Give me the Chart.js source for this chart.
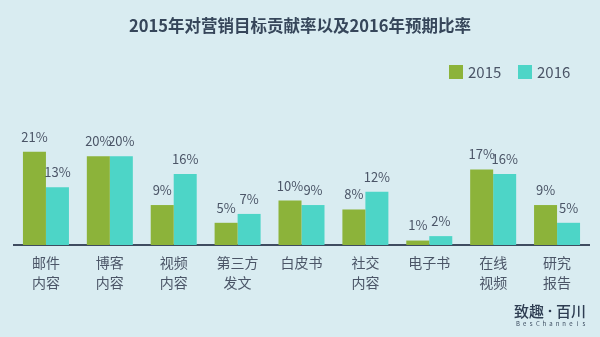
<!DOCTYPE html>
<html><head><meta charset="utf-8">
<script src="https://cdn.jsdelivr.net/npm/chart.js@4.4.1/dist/chart.umd.min.js"></script>
<style>html,body{margin:0;padding:0;background:#d9ecf1;}#wrap{width:600px;height:337px;position:relative;}</style>
</head><body><div id="wrap"><canvas id="c" width="600" height="337"></canvas></div>
<script>
const title = '2015年对营销目标贡献率以及2016年预期比率';
const categories = [['邮件','内容'],['博客','内容'],['视频','内容'],['第三方','发文'],['白皮书'],['社交','内容'],['电子书'],['在线','视频'],['研究','报告']];
const seriesNames = ['2015','2016'];
const values2015 = [21,20,9,5,10,8,1,17,9];
const values2016 = [13,20,16,7,9,12,2,16,5];
const colors = ['#8cb33a','#4dd5c7'];
const FONT = '"Noto Sans CJK SC","Noto Sans",sans-serif';
const txt = '#4b5567';

const deco = {
  id:'deco',
  afterDatasetsDraw(chart){
    const ctx = chart.ctx;
    ctx.save();
    ctx.font = '13px '+FONT;
    ctx.fillStyle = txt;
    ctx.textAlign = 'center';
    ctx.textBaseline = 'middle';
    chart.data.datasets.forEach((ds,di)=>{
      const meta = chart.getDatasetMeta(di);
      meta.data.forEach((el,i)=>{
        ctx.fillText(ds.data[i]+'%', el.x, el.y-15);
      });
    });
    ctx.font = 'bold 16.5px '+FONT;
    ctx.fillStyle = '#36465a';
    ctx.fillText(title, 300, 26);
    ctx.font = '15px '+FONT;
    ctx.textAlign = 'left';
    const lx = [449, 518];
    seriesNames.forEach((n,i)=>{
      ctx.fillStyle = colors[i];
      ctx.fillRect(lx[i], 65, 14, 14);
      ctx.fillStyle = txt;
      ctx.fillText(n, lx[i]+19, 72);
    });
    // watermark
    ctx.font = '500 15px '+FONT;
    ctx.fillStyle = '#2e3d52';
    ctx.textAlign = 'left';
    ctx.fillText('致趣', 514, 311);
    ctx.fillText('百川', 556, 311);
    ctx.beginPath(); ctx.arc(550, 311, 1.3, 0, Math.PI*2); ctx.fill();
    ctx.font = '6px '+FONT;
    ctx.fillStyle = '#3a4a5e';
    ctx.textAlign = 'center';
    const s='BesChannels';
    for(let k=0;k<s.length;k++){ ctx.fillText(s[k], 518+k*6.6, 324); }
    ctx.restore();
  }
};

new Chart(document.getElementById('c'),{
  type:'bar',
  data:{labels:categories,datasets:[
    {label:seriesNames[0],data:values2015,backgroundColor:colors[0],borderWidth:0,categoryPercentage:0.72,barPercentage:1},
    {label:seriesNames[1],data:values2016,backgroundColor:colors[1],borderWidth:0,categoryPercentage:0.72,barPercentage:1}
  ]},
  options:{
    responsive:false,animation:false,
    devicePixelRatio:1,
    layout:{padding:{top:134,left:14,right:11,bottom:0}},
    plugins:{legend:{display:false},title:{display:false},tooltip:{enabled:false}},
    scales:{
      x:{
        grid:{display:false},
        border:{display:true,color:'#3f4c60',width:2},
        ticks:{color:txt,font:{family:FONT,size:14,lineHeight:1.4},padding:0,maxRotation:0,autoSkip:false},
        afterFit(s){s.height=92;}
      },
      y:{display:false,min:0,max:25}
    }
  },
  plugins:[deco]
});
</script></body></html>
